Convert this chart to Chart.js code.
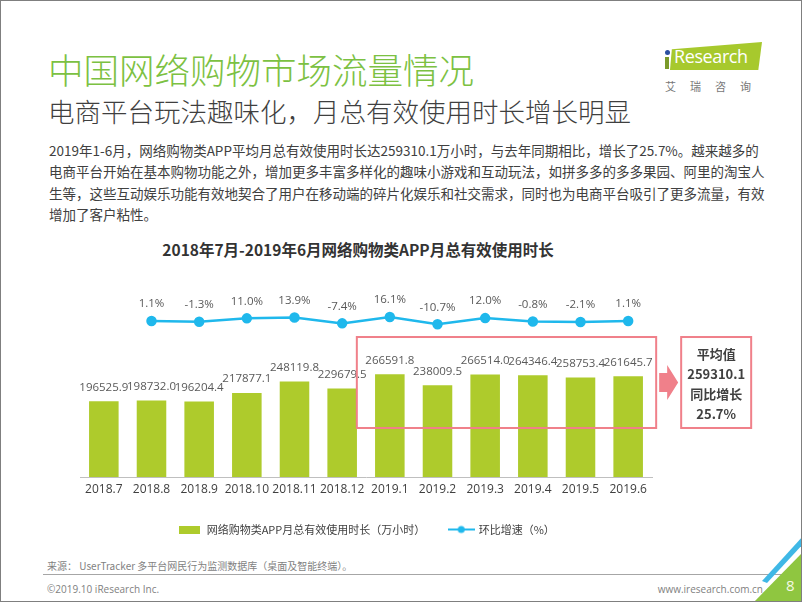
<html lang="zh-CN">
<head>
    <meta charset="UTF-8">
    <title>中国网络购物市场流量情况</title>
    <script src="https://cdn.jsdelivr.net/npm/chart.js"></script>
    <style>
        body { margin: 0; background: #fff; font-family: "Noto Sans CJK SC", "Open Sans", sans-serif; }
        .page { position: relative; width: 802px; height: 602px; box-sizing: border-box; border: 1px solid #7f7f7f; overflow: hidden; }
        .abs { position: absolute; white-space: nowrap; }
        .title { left: 47px; top: 48px; font-size: 35.5px; line-height: 40px; color: #7cc142; font-weight: 300; }
        .subtitle { left: 47px; top: 95px; font-size: 26.5px; line-height: 30px; color: #3f3f3f; font-weight: 300; }
        .intro { left: 48px; top: 139px; font-size: 13.5px; line-height: 21.4px; color: #404040; }
        .chart-title { left: 107px; top: 237px; width: 500px; text-align: center; font-size: 15.5px; font-weight: bold; color: #333; }
        .logo-band { left: 669px; top: 41px; width: 92px; height: 28px; background: #a7c92d; clip-path: polygon(2% 26%, 100% 0, 96% 100%, 0 100%); }
        .logo-text { left: 673px; top: 43px; font-family: "Open Sans", sans-serif; font-size: 18px; color: #fff; letter-spacing: -0.4px; }
        .logo-i { left: 664px; top: 56px; width: 4px; height: 12px; background: #7a9a2a; }
        .logo-dot { left: 664px; top: 49px; width: 5px; height: 5px; border-radius: 50%; background: #2b4fa0; }
        .logo-cn { left: 664px; top: 77px; font-size: 11px; color: #777; letter-spacing: 14px; }
        .source { left: 46px; top: 557px; font-size: 10px; color: #7f7f7f; }
        .rule { left: 42px; top: 573px; width: 743px; height: 1px; background: #a6a6a6; }
        .copy { left: 46px; top: 581px; font-size: 10px; color: #7f7f7f; font-family: "Open Sans", sans-serif; }
        .site { right: 38px; top: 581px; font-size: 10px; color: #7f7f7f; font-family: "Open Sans", sans-serif; }
        .corner { left: 0; top: 0; width: 802px; height: 602px; }
        .corner-green { background: #8fc640; clip-path: polygon(752px 602px, 802px 602px, 802px 551px); }
        .corner-blue { background: #3fb8e6; clip-path: polygon(766px 582px, 802px 543px, 802px 535px, 761px 580px); }
        .page-num { left: 785px; top: 574px; font-size: 15px; color: #f4f9e4; font-family: "Open Sans", sans-serif; }
        #chartWrap { position: absolute; left: 59px; top: 279px; width: 700px; height: 265px; }
    </style>
</head>
<body>
<div class="page">
    <div class="abs title">中国网络购物市场流量情况</div>
    <div class="abs subtitle">电商平台玩法趣味化，月总有效使用时长增长明显</div>
    <div class="abs intro">2019年1-6月，网络购物类APP平均月总有效使用时长达259310.1万小时，与去年同期相比，增长了25.7%。越来越多的<br>电商平台开始在基本购物功能之外，增加更多丰富多样化的趣味小游戏和互动玩法，如拼多多的多多果园、阿里的淘宝人<br>生等，这些互动娱乐功能有效地契合了用户在移动端的碎片化娱乐和社交需求，同时也为电商平台吸引了更多流量，有效<br>增加了客户粘性。</div>
    <div class="abs chart-title">2018年7月-2019年6月网络购物类APP月总有效使用时长</div>

    <div class="abs logo-band"></div>
    <div class="abs logo-text">Research</div>
    <div class="abs logo-i"></div>
    <div class="abs logo-dot"></div>
    <div class="abs logo-cn">艾瑞咨询</div>

    <div id="chartWrap"><canvas id="usageChart"></canvas></div>

    <div class="abs source">来源： UserTracker 多平台网民行为监测数据库（桌面及智能终端）。</div>
    <div class="abs rule"></div>
    <div class="abs copy">©2019.10 iResearch Inc.</div>
    <div class="abs site">www.iresearch.com.cn</div>
    <div class="abs corner corner-blue"></div>
    <div class="abs corner corner-green"></div>
    <div class="abs page-num">8</div>
</div>

<script>
    // 数据
    const months = ['2018.7', '2018.8', '2018.9', '2018.10', '2018.11', '2018.12', '2019.1', '2019.2', '2019.3', '2019.4', '2019.5', '2019.6'];
    const usageHours = [196525.9, 198732.0, 196204.4, 217877.1, 248119.8, 229679.5, 266591.8, 238009.5, 266514.0, 264346.4, 258753.4, 261645.7];
    const momGrowth = [null, 1.1, -1.3, 11.0, 13.9, -7.4, 16.1, -10.7, 12.0, -0.8, -2.1, 1.1];
    const seriesNames = ['网络购物类APP月总有效使用时长（万小时）', '环比增速（%）'];
    const summaryLines = ['平均值', '259310.1', '同比增长', '25.7%'];

    const barColor = '#aecb2c';
    const lineColor = '#1fb8ec';
    const pinkColor = '#f0808a';

    // 图例小图标
    function makeSwatch(w, h, draw) {
        const c = document.createElement('canvas');
        c.width = w; c.height = h;
        draw(c.getContext('2d'));
        return c;
    }
    const barSwatch = makeSwatch(21, 8, g => { g.fillStyle = barColor; g.fillRect(0, 0, 21, 8); });
    const lineSwatch = makeSwatch(27, 10, g => {
        g.strokeStyle = lineColor; g.lineWidth = 2;
        g.beginPath(); g.moveTo(0, 5); g.lineTo(27, 5); g.stroke();
        g.fillStyle = lineColor;
        g.beginPath(); g.arc(13.5, 5, 3.5, 0, Math.PI * 2); g.fill();
    });

    // 数值标签 + 红框 + 汇总框
    const decorations = {
        id: 'decorations',
        afterDatasetsDraw(chart) {
            const ctx = chart.ctx;
            const x = chart.scales.x;
            const y = chart.scales.y;
            ctx.save();
            ctx.textAlign = 'center';
            ctx.textBaseline = 'middle';
            ctx.fillStyle = '#595959';
            ctx.font = '11.5px "Open Sans", sans-serif';
            chart.getDatasetMeta(0).data.forEach((bar, i) => {
                ctx.fillText(usageHours[i].toFixed(1), bar.x, bar.y - 14);
            });
            chart.getDatasetMeta(1).data.forEach((pt, i) => {
                if (momGrowth[i] === null) return;
                ctx.fillText(momGrowth[i].toFixed(1) + '%', pt.x, pt.y - 17);
            });

            // 2019年框
            const left = x.getPixelForValue(6) - 33;
            const right = x.getPixelForValue(11) + 28;
            const top = y.getPixelForValue(363600);
            const bottom = y.getPixelForValue(127300);
            ctx.strokeStyle = pinkColor;
            ctx.lineWidth = 2;
            ctx.strokeRect(left, top, right - left, bottom - top);

            // 箭头
            const midY = (top + bottom) / 2;
            ctx.fillStyle = pinkColor;
            ctx.beginPath();
            ctx.moveTo(right + 3, midY - 9.5);
            ctx.lineTo(right + 11, midY - 9.5);
            ctx.lineTo(right + 11, midY - 17.5);
            ctx.lineTo(right + 22, midY);
            ctx.lineTo(right + 11, midY + 17.5);
            ctx.lineTo(right + 11, midY + 9.5);
            ctx.lineTo(right + 3, midY + 9.5);
            ctx.closePath();
            ctx.fill();

            // 汇总框
            const bx = right + 25, bw = 70;
            ctx.strokeRect(bx, top, bw, bottom - top);
            ctx.fillStyle = '#404040';
            ctx.font = 'bold 13px "Noto Sans CJK SC", "Open Sans", sans-serif';
            summaryLines.forEach((t, i) => {
                ctx.fillText(t, bx + bw / 2, top + 17 + i * 20);
            });
            ctx.restore();
        }
    };

    const config = {
        data: {
            labels: months,
            datasets: [{
                type: 'bar',
                label: seriesNames[0],
                data: usageHours,
                backgroundColor: barColor,
                barPercentage: 0.62,
                categoryPercentage: 1,
                yAxisID: 'y'
            }, {
                type: 'line',
                label: seriesNames[1],
                data: momGrowth,
                borderColor: lineColor,
                backgroundColor: lineColor,
                borderWidth: 2.5,
                pointRadius: 4,
                pointHoverRadius: 4,
                tension: 0,
                yAxisID: 'y1'
            }]
        },
        options: {
            responsive: true,
            maintainAspectRatio: false,
            animation: false,
            layout: { autoPadding: false, padding: { left: 20, right: 108, top: 0, bottom: 0 } },
            plugins: {
                tooltip: { enabled: false },
                legend: {
                    position: 'bottom',
                    labels: {
                        usePointStyle: true,
                        pointStyleWidth: 24,
                        padding: 24,
                        color: '#404040',
                        font: { size: 11, family: '"Noto Sans CJK SC", "Open Sans", sans-serif' },
                        generateLabels: () => [
                            { text: seriesNames[0], pointStyle: barSwatch, fontColor: '#404040', datasetIndex: 0, hidden: false, lineWidth: 0 },
                            { text: seriesNames[1], pointStyle: lineSwatch, fontColor: '#404040', datasetIndex: 1, hidden: false, lineWidth: 0 }
                        ]
                    }
                }
            },
            scales: {
                x: {
                    grid: { display: false, drawTicks: false },
                    border: { display: true, color: '#bfbfbf', width: 1 },
                    ticks: { color: '#404040', padding: 5, autoSkip: false, maxRotation: 0, minRotation: 0, font: { size: 12, family: '"Open Sans", sans-serif' } },
                    afterFit: scale => { scale.height = 23; }
                },
                y: { display: false, min: 0, max: 511700 },
                y1: { display: false, min: -572, max: 152 }
            }
        },
        plugins: [decorations]
    };

    new Chart(document.getElementById('usageChart'), config);
</script>
</body>
</html>
